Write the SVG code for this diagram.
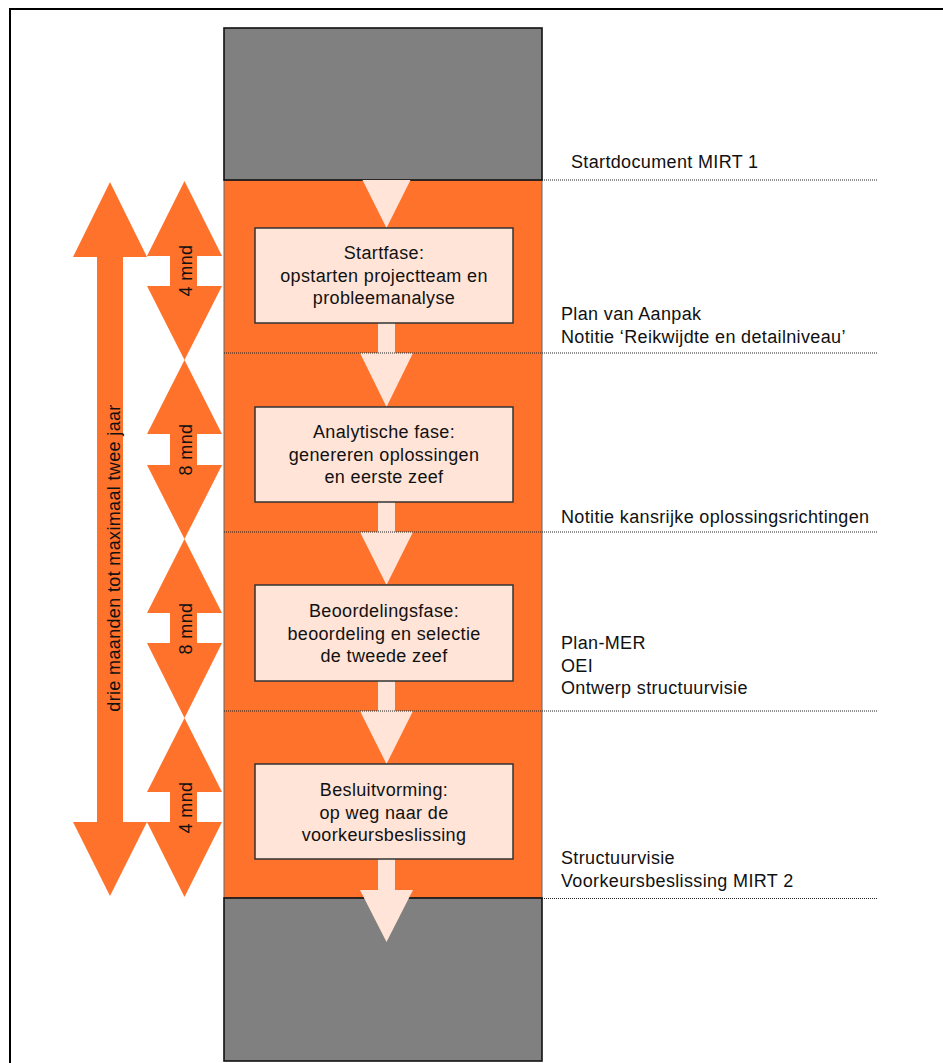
<svg xmlns="http://www.w3.org/2000/svg" width="943" height="1063" viewBox="0 0 943 1063">
<style>
text{font-family:"Liberation Sans",Arial,sans-serif;font-size:18px;fill:#111;letter-spacing:0.35px}
.c{text-anchor:middle}
.gray{fill:#808080;stroke:#111;stroke-width:1.6}
.orange{fill:#FF722B}
.box{fill:#FFE4D7;stroke:#333;stroke-width:1.5}
.flow{fill:#FFE4D7}
.dot{stroke:#222;stroke-width:1;stroke-dasharray:1 1;fill:none}
.dur{fill:#FF722B}
</style>
<rect width="943" height="1063" fill="#fff"/>
<g id="frame">
<path d="M10 1063 V9 H943" fill="none" stroke="#000" stroke-width="2"/>
</g>
<g id="column">
<rect class="orange" x="224" y="180" width="318" height="718" stroke="#666" stroke-width="1"/>
<rect class="gray" x="224" y="28" width="318" height="152"/>
<rect class="gray" x="224" y="898" width="318" height="163"/>
</g>
<g id="connectors">
<polygon class="flow" points="362.5,180 410.5,180 386.5,228"/>
<rect class="flow" x="378" y="323" width="17" height="31"/>
<polygon class="flow" points="360,353 413,353 386.5,407"/>
<rect class="flow" x="378" y="502" width="17" height="31"/>
<polygon class="flow" points="360,532 413,532 386.5,585"/>
<rect class="flow" x="378" y="681" width="17" height="31"/>
<polygon class="flow" points="360,711 413,711 386.5,764"/>
<rect class="flow" x="378" y="859" width="17" height="32"/>
<polygon class="flow" points="360,890 413,890 386.5,942"/>
</g>
<g id="dotted-lines">
<line class="dot" x1="542" y1="180" x2="877" y2="180"/>
<line class="dot" x1="224" y1="353" x2="877" y2="353"/>
<line class="dot" x1="224" y1="532" x2="877" y2="532"/>
<line class="dot" x1="224" y1="711" x2="877" y2="711"/>
<line class="dot" x1="542" y1="898.5" x2="877" y2="898.5"/>
</g>
<g id="node-startfase">
<rect class="box" x="255" y="228" width="258" height="95"/>
<text class="c" x="384" y="259">Startfase:</text>
<text class="c" x="384" y="282">opstarten projectteam en</text>
<text class="c" x="384" y="304">probleemanalyse</text>
</g>
<g id="node-analytische">
<rect class="box" x="255" y="407" width="258" height="95"/>
<text class="c" x="384" y="438">Analytische fase:</text>
<text class="c" x="384" y="461">genereren oplossingen</text>
<text class="c" x="384" y="483">en eerste zeef</text>
</g>
<g id="node-beoordeling">
<rect class="box" x="255" y="585" width="258" height="96"/>
<text class="c" x="384" y="617">Beoordelingsfase:</text>
<text class="c" x="384" y="640">beoordeling en selectie</text>
<text class="c" x="384" y="662">de tweede zeef</text>
</g>
<g id="node-besluit">
<rect class="box" x="255" y="764" width="258" height="95"/>
<text class="c" x="384" y="796">Besluitvorming:</text>
<text class="c" x="384" y="819">op weg naar de</text>
<text class="c" x="384" y="841">voorkeursbeslissing</text>
</g>
<g id="duration-total">
<polygon class="dur" points="110,182 147,257 123,257 123,822 147,822 110,896 73,822 97,822 97,257 73,257"/>
<text class="c" transform="translate(120,558) rotate(-90)">drie maanden tot maximaal twee jaar</text>
</g>
<g id="duration-1">
<polygon class="dur" points="184.5,181 222,256 197,256 197,286 222,286 184.5,360 147,286 170,286 170,256 147,256"/>
<text class="c" transform="translate(191.5,270.5) rotate(-90)">4 mnd</text>
</g>
<g id="duration-2">
<polygon class="dur" points="184.5,360 222,434 197,434 197,465 222,465 184.5,539 147,465 170,465 170,434 147,434"/>
<text class="c" transform="translate(191.5,449.5) rotate(-90)">8 mnd</text>
</g>
<g id="duration-3">
<polygon class="dur" points="184.5,539 222,613 197,613 197,643 222,643 184.5,718 147,643 170,643 170,613 147,613"/>
<text class="c" transform="translate(191.5,628.5) rotate(-90)">8 mnd</text>
</g>
<g id="duration-4">
<polygon class="dur" points="184.5,718 222,792 197,792 197,822 222,822 184.5,897 147,822 170,822 170,792 147,792"/>
<text class="c" transform="translate(191.5,807.5) rotate(-90)">4 mnd</text>
</g>
<g id="milestones">
<text x="571" y="168">Startdocument MIRT 1</text>
<text x="561" y="320">Plan van Aanpak</text>
<text x="561" y="343">Notitie ‘Reikwijdte en detailniveau’</text>
<text x="561" y="523">Notitie kansrijke oplossingsrichtingen</text>
<text x="561" y="649">Plan-MER</text>
<text x="561" y="672">OEI</text>
<text x="561" y="694">Ontwerp structuurvisie</text>
<text x="561" y="864">Structuurvisie</text>
<text x="561" y="887">Voorkeursbeslissing MIRT 2</text>
</g>
</svg>
